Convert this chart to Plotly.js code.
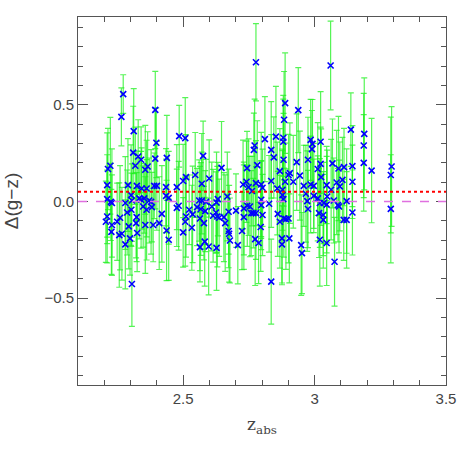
<!DOCTYPE html>
<html>
<head>
<meta charset="utf-8">
<script src="https://cdn.plot.ly/plotly-3.0.1.min.js"></script>
<style>
  html, body { margin: 0; padding: 0; background: #fff; }
  #chart { width: 463px; height: 463px; }
</style>
</head>
<body>
<div id="chart"></div>
<script>
// absorber redshift
const zAbs = [
  2.272, 2.265, 2.394, 2.312, 2.398, 2.485, 2.508, 2.310, 2.329, 2.340, 2.394, 2.438,
  2.223, 2.214, 2.365, 2.356, 2.318, 2.511, 2.500, 2.211, 2.290, 2.324, 2.342, 2.361,
  2.390, 2.400, 2.435, 2.476, 2.302, 2.435, 2.445, 2.211, 2.225, 2.229, 2.333, 2.340,
  2.352, 2.371, 2.378, 2.305, 2.280, 2.348, 2.361, 2.381, 2.483, 2.476, 2.419, 2.287,
  2.303, 2.211, 2.206, 2.260, 2.323, 2.321, 2.229, 2.249, 2.293, 2.356, 2.386, 2.409,
  2.511, 2.508, 2.500, 2.437, 2.227, 2.325, 2.267, 2.257, 2.298, 2.280, 2.445, 2.305,
  2.777, 2.811, 2.853, 2.772, 2.769, 2.845, 2.835, 2.782, 2.576, 2.646, 2.546, 2.599,
  2.571, 2.743, 2.728, 2.741, 2.749, 2.777, 2.797, 2.802, 2.835, 2.762, 2.668, 2.561,
  2.571, 2.632, 2.587, 2.627, 2.553, 2.567, 2.584, 2.609, 2.523, 2.536, 2.533, 2.564,
  2.579, 2.614, 2.625, 2.630, 2.637, 2.655, 2.660, 2.673, 2.701, 2.731, 2.744, 2.754,
  2.797, 2.797, 2.827, 2.759, 2.767, 2.777, 2.802, 2.731, 2.795, 2.673, 2.675, 2.678,
  2.724, 2.774, 2.787, 2.582, 2.564, 2.597, 2.627, 2.708, 2.835,
  3.061, 2.888, 2.938, 2.884, 2.881, 2.881, 3.138, 3.189, 3.187, 3.187, 2.985, 2.992,
  3.023, 2.990, 2.882, 2.975, 2.932, 3.023, 3.068, 3.144, 3.091, 3.112, 3.012, 2.868,
  2.906, 2.901, 2.944, 3.025, 2.888, 2.919, 3.106, 3.084, 3.144, 3.096, 2.959, 2.985,
  2.997, 3.046, 2.858, 3.063, 2.878, 2.878, 2.967, 2.997, 3.012, 3.048, 2.881, 2.972,
  3.020, 3.035, 3.046, 3.073, 3.089, 3.093, 3.122, 2.975, 3.017, 3.033, 3.033, 2.860,
  2.868, 2.883, 2.891, 2.901, 3.111, 3.122, 3.144, 2.876, 2.876, 2.904, 2.949, 2.952,
  3.020, 3.046, 3.076, 3.217, 3.293, 3.290, 3.290
];

// colour offset delta(g-z)
const dGZ = [
  0.556, 0.438, 0.474, 0.364, 0.304, 0.338, 0.328, 0.253, 0.233, 0.216, 0.222, 0.226,
  0.185, 0.168, 0.181, 0.164, 0.185, 0.126, 0.106, 0.085, 0.085, 0.081, 0.067, 0.067,
  0.081, 0.081, 0.074, 0.074, 0.033, 0.029, 0.019, 0.012, -0.002, -0.008, 0.016, 0.009,
  0.016, 0.005, -0.002, 0.005, -0.008, -0.026, -0.043, -0.029, -0.022, -0.033, -0.064, -0.057,
  -0.043, -0.078, -0.105, -0.084, -0.081, -0.112, -0.122, -0.105, -0.129, -0.122, -0.122, -0.112,
  -0.078, -0.105, -0.160, -0.150, -0.157, -0.163, -0.167, -0.174, -0.191, -0.222, -0.198, -0.427,
  0.721, 0.323, 0.336, 0.290, 0.267, 0.228, 0.267, 0.188, 0.236, 0.174, 0.137, 0.119,
  0.092, 0.173, 0.088, 0.102, 0.074, 0.095, 0.088, 0.071, 0.106, 0.054, 0.026, 0.005,
  0.005, 0.012, -0.002, -0.005, -0.029, -0.039, -0.050, -0.026, -0.043, -0.067, -0.136, -0.088,
  -0.112, -0.074, -0.057, -0.078, -0.084, -0.081, -0.112, -0.053, -0.047, -0.036, -0.022, -0.026,
  -0.019, 0.009, -0.012, -0.060, -0.060, -0.060, -0.070, -0.081, -0.132, -0.153, -0.167, -0.202,
  -0.153, -0.195, -0.215, -0.208, -0.236, -0.233, -0.240, -0.226, -0.415,
  0.704, 0.509, 0.473, 0.423, 0.330, 0.309, 0.372, 0.350, 0.290, 0.200, 0.319, 0.298,
  0.309, 0.271, 0.216, 0.216, 0.204, 0.195, 0.197, 0.183, 0.171, 0.178, 0.168, 0.157,
  0.147, 0.137, 0.134, 0.126, 0.102, 0.102, 0.112, 0.098, 0.102, 0.078, 0.081, 0.088,
  0.081, 0.085, 0.067, 0.061, 0.061, 0.033, 0.040, 0.029, 0.016, 0.026, 0.012, 0.002,
  -0.008, -0.008, -0.016, 0.005, -0.019, -0.026, 0.002, -0.039, -0.060, -0.070, -0.095, -0.064,
  -0.105, -0.088, -0.091, -0.088, -0.095, -0.095, -0.057, -0.191, -0.222, -0.191, -0.226, -0.267,
  -0.198, -0.215, -0.312, 0.160, 0.181, 0.137, -0.038
];

// 1-sigma errors
const errGZ = [
  0.10, 0.15, 0.20, 0.22, 0.18, 0.16, 0.21, 0.24, 0.19, 0.17, 0.26, 0.22,
  0.25, 0.21, 0.18, 0.23, 0.20, 0.22, 0.19, 0.27, 0.24, 0.18, 0.21, 0.25,
  0.17, 0.23, 0.20, 0.22, 0.26, 0.19, 0.24, 0.23, 0.20, 0.28, 0.21, 0.25,
  0.18, 0.22, 0.27, 0.19, 0.24, 0.21, 0.26, 0.18, 0.23, 0.20, 0.25, 0.22,
  0.19, 0.24, 0.21, 0.27, 0.23, 0.18, 0.26, 0.20, 0.22, 0.25, 0.19, 0.24,
  0.21, 0.23, 0.18, 0.26, 0.22, 0.20, 0.24, 0.27, 0.19, 0.23, 0.21, 0.22,
  0.20, 0.22, 0.26, 0.24, 0.19, 0.21, 0.25, 0.23, 0.18, 0.24, 0.22, 0.20,
  0.26, 0.19, 0.23, 0.21, 0.25, 0.22, 0.27, 0.20, 0.24, 0.18, 0.23, 0.21,
  0.25, 0.19, 0.22, 0.26, 0.20, 0.24, 0.21, 0.23, 0.18, 0.25, 0.22, 0.27,
  0.19, 0.24, 0.21, 0.26, 0.20, 0.23, 0.25, 0.22, 0.19, 0.24, 0.21, 0.26,
  0.23, 0.20, 0.25, 0.22, 0.18, 0.24, 0.21, 0.27, 0.23, 0.19, 0.25, 0.22,
  0.20, 0.24, 0.21, 0.23, 0.18, 0.25, 0.22, 0.20, 0.22,
  0.23, 0.26, 0.22, 0.25, 0.20, 0.24, 0.19, 0.29, 0.27, 0.25, 0.21, 0.23,
  0.26, 0.20, 0.24, 0.22, 0.25, 0.19, 0.23, 0.21, 0.27, 0.20, 0.24, 0.22,
  0.26, 0.21, 0.23, 0.25, 0.20, 0.24, 0.22, 0.27, 0.19, 0.23, 0.21, 0.25,
  0.22, 0.20, 0.24, 0.26, 0.21, 0.23, 0.25, 0.19, 0.22, 0.24, 0.20, 0.26,
  0.23, 0.21, 0.25, 0.22, 0.19, 0.24, 0.27, 0.20, 0.23, 0.21, 0.25, 0.22,
  0.24, 0.20, 0.26, 0.23, 0.21, 0.25, 0.22, 0.24, 0.20, 0.23, 0.26, 0.21,
  0.24, 0.22, 0.23, 0.27, 0.31, 0.30, 0.28
];

const meanOffset = 0.05;
const zeroLevel = 0;

const axisFont = { family: 'Liberation Sans, Arial, sans-serif', size: 15, color: '#444' };

const trace = {
  x: zAbs,
  y: dGZ,
  type: 'scatter',
  mode: 'markers',
  marker: { symbol: 'x-thin-open', size: 6, color: '#0000ff', line: { color: '#1010ff', width: 1.6 } },
  error_y: { type: 'data', array: errGZ, visible: true, color: 'rgba(30,240,30,0.75)', thickness: 1.2, width: 3 },
  hoverinfo: 'x+y'
};

const layout = {
  width: 463,
  height: 463,
  paper_bgcolor: '#fff',
  plot_bgcolor: '#fff',
  margin: { l: 78, r: 17, t: 17, b: 78 },
  showlegend: false,
  font: axisFont,
  xaxis: {
    range: [2.1, 3.5],
    dtick: 0.5,
    tick0: 2.5,
    ticks: 'inside',
    ticklen: 10,
    tickcolor: '#555',
    mirror: 'allticks',
    showline: true,
    linecolor: '#555',
    linewidth: 1,
    showgrid: false,
    zeroline: false,
    minor: { dtick: 0.1, ticks: 'inside', ticklen: 5, tickcolor: '#555', showgrid: false },
    tickfont: axisFont,
    title: { text: 'z<sub>abs</sub>', font: { family: 'DejaVu Serif, serif', size: 17, color: '#444' }, standoff: 12 }
  },
  yaxis: {
    range: [-0.95, 0.955],
    dtick: 0.5,
    tick0: 0,
    tickformat: '.1f',
    ticks: 'inside',
    ticklen: 10,
    tickcolor: '#555',
    mirror: 'allticks',
    showline: true,
    linecolor: '#555',
    linewidth: 1,
    showgrid: false,
    zeroline: false,
    minor: { dtick: 0.1, ticks: 'inside', ticklen: 5, tickcolor: '#555', showgrid: false },
    tickfont: axisFont,
    title: { text: 'Δ(g−z)', font: { family: 'Liberation Sans, sans-serif', size: 19, color: '#444' }, standoff: 20 }
  },
  shapes: [
    { type: 'line', xref: 'paper', x0: 0, x1: 1, yref: 'y', y0: zeroLevel, y1: zeroLevel,
      line: { color: '#e070e0', width: 1.5, dash: 'dash' } },
    { type: 'line', xref: 'paper', x0: 0, x1: 1, yref: 'y', y0: meanOffset, y1: meanOffset,
      line: { color: '#ff0000', width: 2, dash: 'dot' } }
  ]
};

Plotly.newPlot('chart', [trace], layout, { staticPlot: true, displayModeBar: false });
</script>
</body>
</html>
